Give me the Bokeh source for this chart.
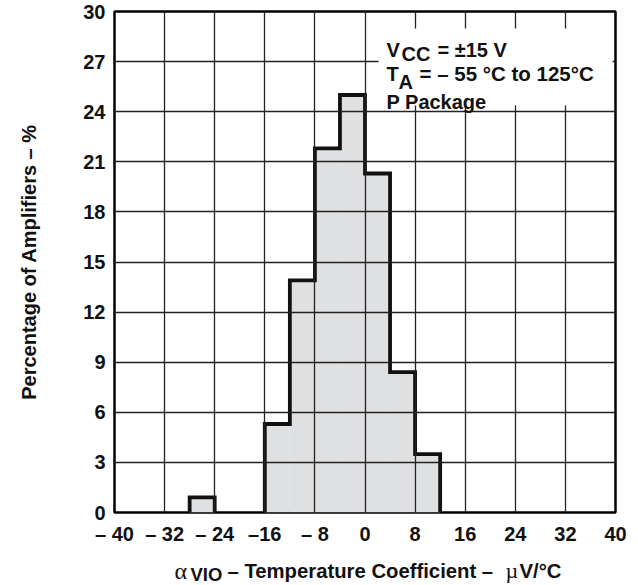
import numpy as np
from bokeh.plotting import figure
from bokeh.layouts import column
from bokeh.models import Range1d, FixedTicker, BoxAnnotation, Label
from bokeh.core.properties import value
from bokeh.embed import file_html
from bokeh.resources import INLINE

# ---- data ----
bin_left = [-28, -16, -12, -8, -4, 0, 4, 8]
bin_right = [-24, -12, -8, -4, 0, 4, 8, 12]
percent = [0.9, 5.3, 13.9, 21.8, 25.0, 20.3, 8.4, 3.5]

x_ticks = [-40, -32, -24, -16, -8, 0, 8, 16, 24, 32, 40]
x_tick_labels = ["– 40", "– 32", "– 24", "–16", "– 8", "0", "8", "16", "24", "32", "40"]
y_ticks = [0, 3, 6, 9, 12, 15, 18, 21, 24, 27, 30]
y_tick_labels = [str(t) for t in y_ticks]

W, H = 638, 552          # main figure
H2 = 33                  # strip below holding the x-axis title
BL, BR, BT, BB = 114, 23, 11, 40
X0, X1, Y0, Y1 = -40, 40, 0, 30

p = figure(width=W, height=H, output_backend="svg", toolbar_location=None,
           x_range=Range1d(X0, X1), y_range=Range1d(Y0, Y1),
           min_border_left=BL, min_border_right=BR, min_border_top=BT, min_border_bottom=BB)
p.background_fill_color = "white"
p.border_fill_color = "white"
p.outline_line_color = "black"
p.outline_line_width = 2.5

# histogram fill
p.quad(left=bin_left, right=bin_right, bottom=0, top=percent,
       fill_color="#dfe0e2", line_color=None)

# outline of contiguous groups
xs, ys = [], []
cx, cy, prev_r = None, None, None
for l, r, h in zip(bin_left, bin_right, percent):
    if prev_r is None or l != prev_r:
        if cx is not None:
            cx.append(prev_r); cy.append(0)
            xs.append(cx); ys.append(cy)
        cx, cy = [l], [0]
    cx += [l, r]
    cy += [h, h]
    prev_r = r
cx.append(prev_r); cy.append(0)
xs.append(cx); ys.append(cy)
p.multi_line(xs, ys, line_color="#111111", line_width=3.8, line_join="miter")

# grid
for g in (p.xgrid, p.ygrid):
    g.level = "guide"
    g.grid_line_color = "#222222"
    g.grid_line_width = 1.3
p.xgrid.ticker = FixedTicker(ticks=x_ticks)
p.ygrid.ticker = FixedTicker(ticks=y_ticks)

# axes
p.xaxis.ticker = FixedTicker(ticks=x_ticks)
p.yaxis.ticker = FixedTicker(ticks=y_ticks)
p.xaxis.major_label_overrides = {t: s for t, s in zip(x_ticks, x_tick_labels)}
p.yaxis.major_label_overrides = {t: s for t, s in zip(y_ticks, y_tick_labels)}
for ax in (p.xaxis[0], p.yaxis[0]):
    ax.axis_line_color = None
    ax.major_tick_line_color = None
    ax.minor_tick_line_color = None
    ax.major_tick_out = 0
    ax.major_tick_in = 0
    ax.major_label_text_font = "Liberation Sans"
    ax.major_label_text_font_style = "bold"
    ax.major_label_text_font_size = "20px"
    ax.major_label_text_color = "#111111"
p.xaxis.major_label_standoff = 10
p.yaxis.major_label_standoff = 9
p.yaxis.axis_label = "Percentage of Amplifiers – %"
p.yaxis.axis_label_text_font = "Liberation Sans"
p.yaxis.axis_label_text_font_style = "bold"
p.yaxis.axis_label_text_font_size = "20px"
p.yaxis.axis_label_text_color = "#111111"
p.yaxis.axis_label_standoff = 40

# helpers: picture pixel -> data coordinate (for text placement)
fw = W - BL - BR
fh = H - BT - BB
def dx(px):
    return X0 + (px - BL) * (X1 - X0) / fw
def dy(py):
    return Y1 - (py - BT) * (Y1 - Y0) / fh

# white box behind the conditions text
p.add_layout(BoxAnnotation(left=dx(378), right=dx(612), bottom=dy(105), top=dy(28),
                           fill_color="white", fill_alpha=1.0, line_color=None))

def put(text, px, py, font="Liberation Sans", style="bold", size="20px"):
    p.add_layout(Label(x=dx(px), y=dy(py), text=text, text_font=font,
                       text_font_style=style, text_font_size=size,
                       text_color="#111111", text_align="left",
                       text_baseline="alphabetic"))

# conditions text
put("V", 386, 49)
put("CC", 401, 53)
put("= ±15 V", 437, 49)
put("T", 386, 73)
put("A", 398, 81)
put("= – 55 °C to 125°C", 419, 73, size="20.5px")
put("P Package", 386, 101)

# ---- strip below: x-axis title with subscript ----
q = figure(width=W, height=H2, output_backend="svg", toolbar_location=None,
           x_range=p.x_range, y_range=Range1d(0, H2),
           x_axis_type=None, y_axis_type=None,
           min_border_left=BL, min_border_right=BR, min_border_top=0, min_border_bottom=0)
q.outline_line_color = None
q.background_fill_color = "white"
q.border_fill_color = "white"
q.xgrid.visible = False
q.ygrid.visible = False

def qy(py):
    return H2 - (py - H)

q.text(x=[dx(174)], y=[qy(570)], text=["α"], text_font=value("Liberation Serif"),
       text_font_size="24px", text_color="#111111",
       text_align="left", text_baseline="alphabetic")
q.text(x=[dx(190)], y=[qy(574)], text=["VIO"], text_font=value("Liberation Sans"),
       text_font_style="bold", text_font_size="18.5px", text_color="#111111",
       text_align="left", text_baseline="alphabetic")
q.text(x=[dx(227), dx(519)], y=[qy(570), qy(570)],
       text=["– Temperature Coefficient –", "V/°C"], text_font=value("Liberation Sans"),
       text_font_style="bold", text_font_size="20.3px", text_color="#111111",
       text_align="left", text_baseline="alphabetic")
q.text(x=[dx(505)], y=[qy(570)], text=["µ"], text_font=value("Liberation Serif"),
       text_font_size="22px", text_color="#111111",
       text_align="left", text_baseline="alphabetic")

layout = column(p, q, spacing=0)
open("out.html", "w").write(file_html(layout, INLINE))
